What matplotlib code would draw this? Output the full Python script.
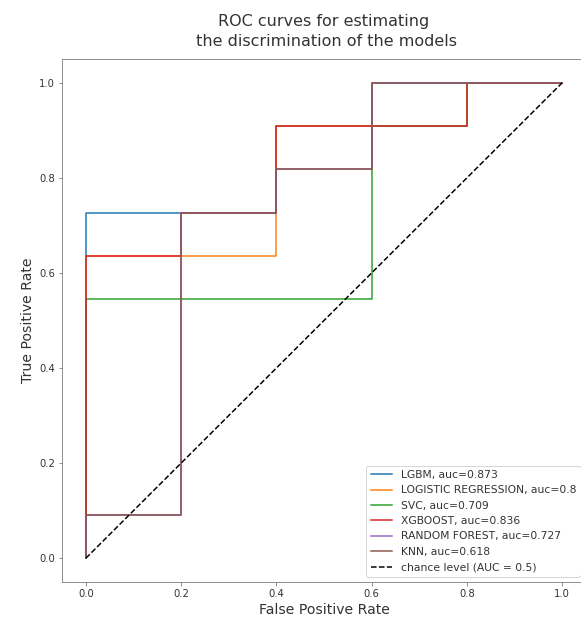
import matplotlib
matplotlib.use("Agg")
import matplotlib.pyplot as plt

# ROC curve points (FPR, TPR) per model
lgbm_fpr = [0.0, 0.0, 0.2, 0.4, 0.4, 0.6, 0.6, 1.0]
lgbm_tpr = [0.0, 0.727, 0.727, 0.727, 0.909, 0.909, 1.0, 1.0]

lr_fpr = [0.0, 0.0, 0.4, 0.4, 0.8, 0.8, 1.0]
lr_tpr = [0.0, 0.636, 0.636, 0.909, 0.909, 1.0, 1.0]

svc_fpr = [0.0, 0.0, 0.6, 0.6, 0.8, 0.8, 1.0]
svc_tpr = [0.0, 0.545, 0.545, 0.909, 0.909, 1.0, 1.0]

xgb_fpr = [0.0, 0.0, 0.2, 0.2, 0.4, 0.4, 0.8, 0.8, 1.0]
xgb_tpr = [0.0, 0.636, 0.636, 0.727, 0.727, 0.909, 0.909, 1.0, 1.0]

rf_fpr = [0.0, 0.0, 0.2, 0.2, 0.4, 0.4, 0.6, 0.6, 1.0]
rf_tpr = [0.0, 0.0909, 0.0909, 0.727, 0.727, 0.818, 0.818, 1.0, 1.0]

knn_fpr = [0.0, 0.0, 0.2, 0.2, 0.4, 0.4, 0.6, 0.6, 1.0]
knn_tpr = [0.0, 0.0909, 0.0909, 0.727, 0.727, 0.818, 0.818, 1.0, 1.0]

labels = ["LGBM, auc=0.873", "LOGISTIC REGRESSION, auc=0.8", "SVC, auc=0.709",
          "XGBOOST, auc=0.836", "RANDOM FOREST, auc=0.727", "KNN, auc=0.618"]
colors = ["#1f77b4", "#ff7f0e", "#2ca02c", "#d62728", "#9467bd", "#8c564b"]

text_c = "#333333"
spine_c = "#777777"

fig = plt.figure(figsize=(581 / 72, 618 / 72), dpi=72)
ax = fig.add_axes([62 / 581, 36 / 618, 524 / 581, 523 / 618])

curves = [(lgbm_fpr, lgbm_tpr), (lr_fpr, lr_tpr), (svc_fpr, svc_tpr),
          (xgb_fpr, xgb_tpr), (rf_fpr, rf_tpr), (knn_fpr, knn_tpr)]
for (fx, ty), lab, col in zip(curves, labels, colors):
    ax.plot(fx, ty, color=col, lw=1.5, label=lab)
ax.plot([0, 1], [0, 1], "k--", lw=1.5, label="chance level (AUC = 0.5)")

ax.set_xticks([0.0, 0.2, 0.4, 0.6, 0.8, 1.0])
ax.set_yticks([0.0, 0.2, 0.4, 0.6, 0.8, 1.0])
ax.tick_params(labelsize=10, colors=spine_c, labelcolor=text_c)
for s in ax.spines.values():
    s.set_color(spine_c)
ax.set_xlabel("False Positive Rate", fontsize=14, color=text_c)
ax.set_ylabel("True Positive Rate", fontsize=14, color=text_c)
ax.set_title("ROC curves for estimating\n the discrimination of the models",
             fontsize=16, color=text_c, pad=13, linespacing=1.4)
leg = ax.legend(loc="lower right", fontsize=10.8)
for t in leg.get_texts():
    t.set_color(text_c)

fig.savefig("out.png", dpi=72)
